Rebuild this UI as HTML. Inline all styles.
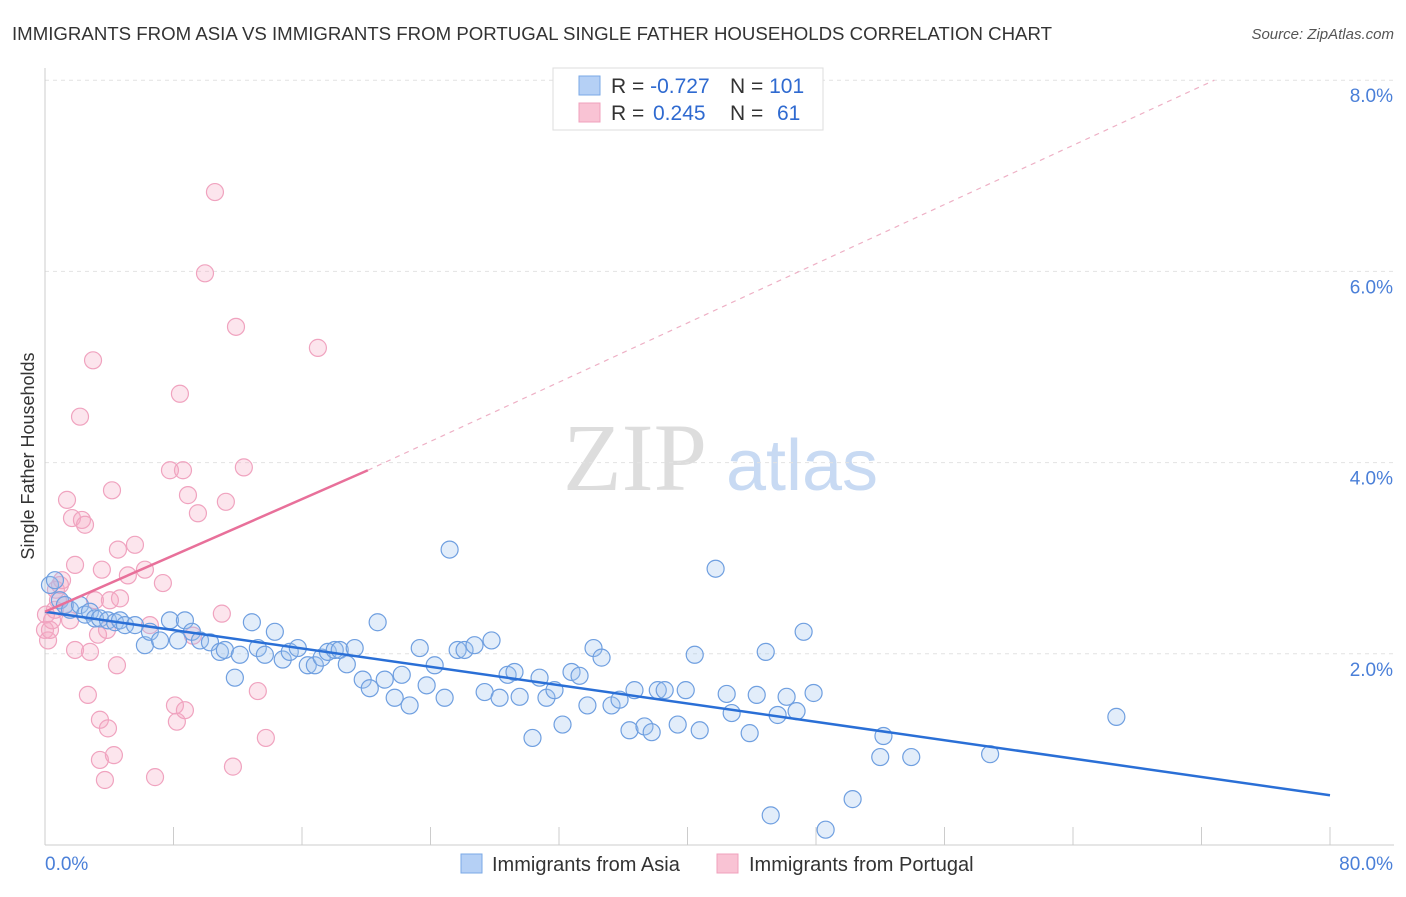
<!DOCTYPE html>
<html><head><meta charset="utf-8">
<style>
body{margin:0;background:#fff;font-family:"Liberation Sans",sans-serif;}
svg text{font-family:"Liberation Sans",sans-serif;}
</style></head>
<body>
<svg width="1406" height="892">
<text x="12" y="40" font-size="18" fill="#333" textLength="1040" lengthAdjust="spacingAndGlyphs">IMMIGRANTS FROM ASIA VS IMMIGRANTS FROM PORTUGAL SINGLE FATHER HOUSEHOLDS CORRELATION CHART</text>
<text x="1394" y="39" font-size="15" fill="#555" font-style="italic" text-anchor="end">Source: ZipAtlas.com</text>
<g>
<text x="635" y="490" font-size="96" fill="#ddd" font-family="Liberation Serif" text-anchor="middle" style="font-family:'Liberation Serif',serif">ZIP</text>
<text x="802" y="490" font-size="72" fill="#c8daf3" text-anchor="middle">atlas</text>
</g>
<g id="grid"></g>
<g id="axes"></g>
<g id="marks"></g>
<text transform="translate(34,456) rotate(-90)" font-size="18" fill="#333" text-anchor="middle">Single Father Households</text>
<g>
<rect x="553" y="68" width="270" height="62" fill="#fff" stroke="#ddd"/>
<rect x="579" y="76" width="21" height="19" fill="#b5d0f5" stroke="#7aa8e6"/>
<rect x="579" y="103" width="21" height="19" fill="#f9c3d4" stroke="#f0a0bc"/>
<text x="611" y="93" font-size="21" fill="#333">R = <tspan fill="#2f6ad0">-0.727</tspan></text>
<text x="730" y="93" font-size="21" fill="#333">N = <tspan fill="#2f6ad0">101</tspan></text>
<text x="611" y="120" font-size="21" fill="#333">R = <tspan fill="#2f6ad0" x="653">0.245</tspan></text>
<text x="730" y="120" font-size="21" fill="#333">N = <tspan fill="#2f6ad0" x="777">61</tspan></text>
</g>
<g>
<rect x="461" y="854" width="21" height="19" fill="#b5d0f5" stroke="#7aa8e6"/>
<text x="492" y="871" font-size="20" fill="#333">Immigrants from Asia</text>
<rect x="717" y="854" width="21" height="19" fill="#f9c3d4" stroke="#f0a0bc"/>
<text x="749" y="871" font-size="20" fill="#333">Immigrants from Portugal</text>
</g>
</svg>
<script>
const yTicks=[2,4,6,8];
const yTickLabels=["2.0%","4.0%","6.0%","8.0%"];
const xTicks=[0,8,16,24,32,40,48,56,64,72,80];
const asiaX=[0.31,0.62,0.93,1.24,1.56,2.18,2.49,2.8,3.11,3.42,3.92,4.36,4.67,4.98,5.6,6.22,6.53,7.16,7.78,8.28,8.71,9.15,9.65,10.27,10.89,11.2,11.82,12.13,12.88,13.25,13.69,14.31,14.8,15.24,15.74,16.36,16.8,17.23,17.61,18.04,18.35,18.79,19.28,19.78,20.22,20.71,21.15,21.77,22.21,22.7,23.33,23.76,24.26,24.88,25.19,25.69,26.12,26.74,27.37,27.8,28.3,28.8,29.23,29.55,30.35,30.79,31.22,31.72,32.22,32.78,33.28,33.77,34.15,34.65,35.27,35.77,36.39,36.7,37.32,37.77,38.15,38.58,39.39,39.89,40.45,40.76,41.75,42.44,42.75,43.87,44.31,44.87,45.18,45.61,46.17,46.79,47.23,47.85,48.6,50.28,52.0,52.2,53.93,58.84,66.7];
const asiaY=[2.72,2.77,2.56,2.51,2.46,2.51,2.41,2.44,2.37,2.37,2.35,2.33,2.35,2.3,2.3,2.09,2.23,2.14,2.35,2.14,2.35,2.23,2.14,2.12,2.02,2.04,1.75,1.99,2.33,2.06,1.99,2.23,1.94,2.02,2.06,1.88,1.88,1.96,2.02,2.04,2.04,1.89,2.06,1.73,1.64,2.33,1.73,1.54,1.78,1.46,2.06,1.67,1.88,1.54,3.09,2.04,2.04,2.09,1.6,2.14,1.54,1.78,1.81,1.55,1.12,1.75,1.54,1.62,1.26,1.81,1.77,1.46,2.06,1.96,1.46,1.52,1.2,1.62,1.24,1.18,1.62,1.62,1.26,1.62,1.99,1.2,2.89,1.58,1.38,1.17,1.57,2.02,0.31,1.36,1.55,1.4,2.23,1.59,0.16,0.48,0.92,1.14,0.92,0.95,1.34];
const portX=[0,0.06,0.19,0.31,0.44,0.62,0.68,0.81,0.93,1.06,1.24,1.37,1.56,1.68,1.87,1.87,2.18,2.3,2.49,2.67,2.8,2.99,3.11,3.3,3.42,3.42,3.54,3.73,3.86,3.92,4.04,4.17,4.29,4.48,4.54,4.67,5.16,5.6,6.22,6.53,6.85,7.34,7.78,8.09,8.21,8.4,8.59,8.71,8.9,9.21,9.52,9.96,10.58,11.01,11.26,11.7,11.89,12.38,13.25,13.75,16.99];
const portY=[2.25,2.41,2.14,2.25,2.35,2.46,2.67,2.56,2.72,2.77,2.51,3.61,2.35,3.42,2.93,2.04,4.48,3.4,3.35,1.57,2.02,5.07,2.56,2.2,1.31,0.89,2.88,0.68,2.25,1.22,2.56,3.71,0.94,1.88,3.09,2.58,2.82,3.14,2.88,2.3,0.71,2.74,3.92,1.46,1.29,4.72,3.92,1.41,3.66,2.19,3.47,5.98,6.83,2.42,3.59,0.82,5.42,3.95,1.61,1.12,5.2];
const asiaTrend=[[0,2.44],[80,0.52]];
const portTrendSolid=[[0,2.44],[20.1,3.92]];
const portTrendDash=[[20.1,3.92],[72.8,8.0]];
const NS="http://www.w3.org/2000/svg";
const X0=45,X1=1330,Y0=845,PXY=95.6;
function sx(v){return X0+(X1-X0)*v/80;}
function sy(v){return Y0-v*PXY;}
function mk(tag,attrs,parent){const e=document.createElementNS(NS,tag);for(const k in attrs)e.setAttribute(k,attrs[k]);parent.appendChild(e);return e;}
const grid=document.getElementById('grid'),axes=document.getElementById('axes'),marks=document.getElementById('marks');
yTicks.forEach((t,i)=>{
 const l=mk('line',{x1:X0,x2:1394,y1:sy(t),y2:sy(t),stroke:'#e2e2e2','stroke-dasharray':'4,4'},grid);
 
 
 const tx=mk('text',{x:1393,y:sy(t)+22,'font-size':19,fill:'#4a7fd8','text-anchor':'end'},axes);
 tx.textContent=yTickLabels[i];
 
 
});
const ax=mk('line',{x1:X0,x2:1394,y1:Y0,y2:Y0,stroke:'#ccc'},axes);


const ay=mk('line',{x1:X0,x2:X0,y1:68,y2:Y0,stroke:'#ccc'},axes);


xTicks.forEach(t=>{
 const l=mk('line',{x1:sx(t),x2:sx(t),y1:Y0,y2:Y0-18,stroke:'#ccc'},axes);
 
 
});
const xl0=mk('text',{x:45,y:870,'font-size':19,fill:'#4a7fd8'},axes);xl0.textContent='0.0%';


const xl1=mk('text',{x:1393,y:870,'font-size':19,fill:'#4a7fd8','text-anchor':'end'},axes);xl1.textContent='80.0%';


portX.forEach((v,i)=>{
 const c=mk('circle',{cx:sx(v),cy:sy(portY[i]),r:8.5,fill:'rgba(246,170,196,0.3)',stroke:'#f0a3bf','stroke-width':1.2},marks);
 
 
});
asiaX.forEach((v,i)=>{
 const c=mk('circle',{cx:sx(v),cy:sy(asiaY[i]),r:8.5,fill:'rgba(160,196,240,0.3)',stroke:'#6f9fe0','stroke-width':1.2},marks);
 
 
});
function line(p,attrs,name){const l=mk('line',Object.assign({x1:sx(p[0][0]),y1:sy(p[0][1]),x2:sx(p[1][0]),y2:sy(p[1][1])},attrs),marks);}
line(asiaTrend,{stroke:'#2a6fd6','stroke-width':2.5},'asia-trend-line');
line(portTrendSolid,{stroke:'#e8709a','stroke-width':2.5},'portugal-trend-line');
line(portTrendDash,{stroke:'#eeb0c5','stroke-width':1.2,'stroke-dasharray':'5,5'},'portugal-trend-extension');
</script>
</body></html>
